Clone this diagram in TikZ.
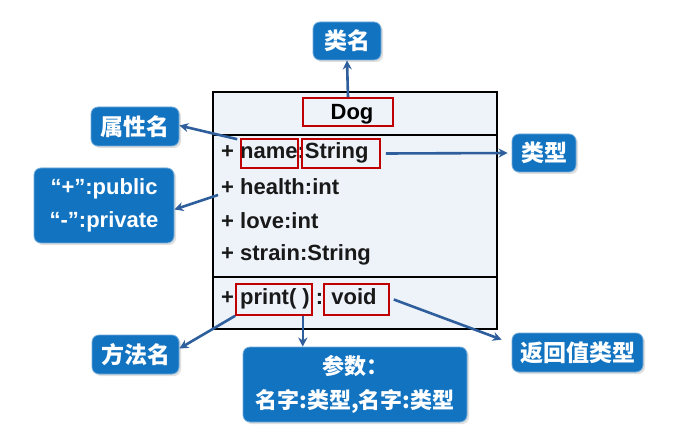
\documentclass[tikz,border=0pt]{standalone}
\usepackage{fontspec}
\setmainfont{Liberation Sans}
\newfontfamily\cjk{Noto Sans CJK SC}
\usetikzlibrary{shadows,arrows.meta}
\definecolor{callblue}{HTML}{1273C1}
\definecolor{arrblue}{HTML}{2E5E9C}
\definecolor{redbox}{HTML}{C00000}
\definecolor{clsfill}{HTML}{EEF3FA}
\tikzset{
  callout/.style={fill=callblue, draw=callblue!60!white, line width=0.8pt, rounded corners=7pt,
    text=white, font=\cjk\bfseries\fontsize{23}{28}\selectfont, inner sep=0pt, align=center,
    drop shadow={shadow xshift=2pt, shadow yshift=-2pt, opacity=0.25}},
  redrect/.style={draw=redbox, line width=1.6pt, inner sep=0pt},
  member/.style={anchor=west, font=\bfseries\fontsize{22}{24}\selectfont, inner sep=0pt, text=black!90},
  pointer/.style={draw=arrblue, line width=2.6pt, -{Stealth[length=9pt,width=9pt]}}
}
\begin{document}
\begin{tikzpicture}[x=1pt,y=-1pt]
\useasboundingbox[fill=white] (0,0) rectangle (674,438);
% class box
\node[draw=black, line width=1.3pt, fill=clsfill, minimum width=284pt, minimum height=237pt, inner sep=0pt] (cls) at (355,210.5) {};
\draw[line width=1.3pt] (cls.west |- 0,135) coordinate (d1l) -- (cls.east |- 0,135) coordinate (d1r);
\draw[line width=1.3pt] (cls.west |- 0,277) coordinate (d2l) -- (cls.east |- 0,277) coordinate (d2r);
% texts
\node[font=\bfseries\fontsize{22}{24}\selectfont, inner sep=0pt] (dogt) at (352,114) {Dog};
\node[member] (a1) at (221,153) {+ name:String};
\node[member] (a2) at (221,187) {+ health:int};
\node[member] (a3) at (221,221) {+ love:int};
\node[member] (a4) at (221,255) {+ strain:String};
\node[member] (m1) at (221,299) {+ print( ) : void};
% red boxes
\node[redrect, minimum width=90pt, minimum height=28pt] (dogb) at (348,112) {};
\node[redrect, minimum width=57pt, minimum height=29pt] (nameb) at (269.5,153.5) {};
\node[redrect, minimum width=78pt, minimum height=29pt] (stringb) at (341,153.5) {};
\node[redrect, minimum width=76pt, minimum height=31pt] (printb) at (274,299.5) {};
\node[redrect, minimum width=65pt, minimum height=31pt] (voidb) at (356.5,299.5) {};
% callouts
\node[callout, minimum width=68pt, minimum height=38pt] (lm) at (347,41) {类名};
\node[callout, minimum width=88pt, minimum height=39pt] (sx) at (135,126.5) {属性名};
\node[callout, minimum width=64pt, minimum height=38pt] (lx) at (544,153) {类型};
\node[callout, minimum width=140pt, minimum height=75pt, font=\bfseries\fontsize{22}{33}\selectfont] (pub) at (104,205.5) {“+”:public\\“-”:private};
\node[callout, minimum width=87pt, minimum height=39pt] (ff) at (135.5,354.5) {方法名};
\node[callout, minimum width=224pt, minimum height=75pt, font=\cjk\bfseries\fontsize{22}{34}\selectfont] (cs) at (355,384.5) {参数：\\名字:类型,名字:类型};
\node[callout, minimum width=131pt, minimum height=39pt] (fh) at (577.5,352.5) {返回值类型};
% connectors
\coordinate (hs) at (218,195);
\coordinate (ps) at ([xshift=-10pt]printb.south east);
\draw[pointer] (dogb.north) -- (lm.south);
\draw[pointer] ([xshift=-3pt,yshift=-1pt]nameb.north west) -- ([yshift=1pt]sx.east);
\draw[pointer, shorten >=4pt] ([xshift=5pt]stringb.east) -- (lx.west);
\draw[pointer] (hs) -- ([yshift=-4pt]pub.east);
\draw[pointer] (printb.south west) -- ([yshift=6pt]ff.east);
\draw[pointer] (ps) -- (ps |- cs.north);
\draw[pointer] ([xshift=4pt]voidb.east) -- ([xshift=-10pt,yshift=-7pt]fh.north west);
\end{tikzpicture}
\end{document}
